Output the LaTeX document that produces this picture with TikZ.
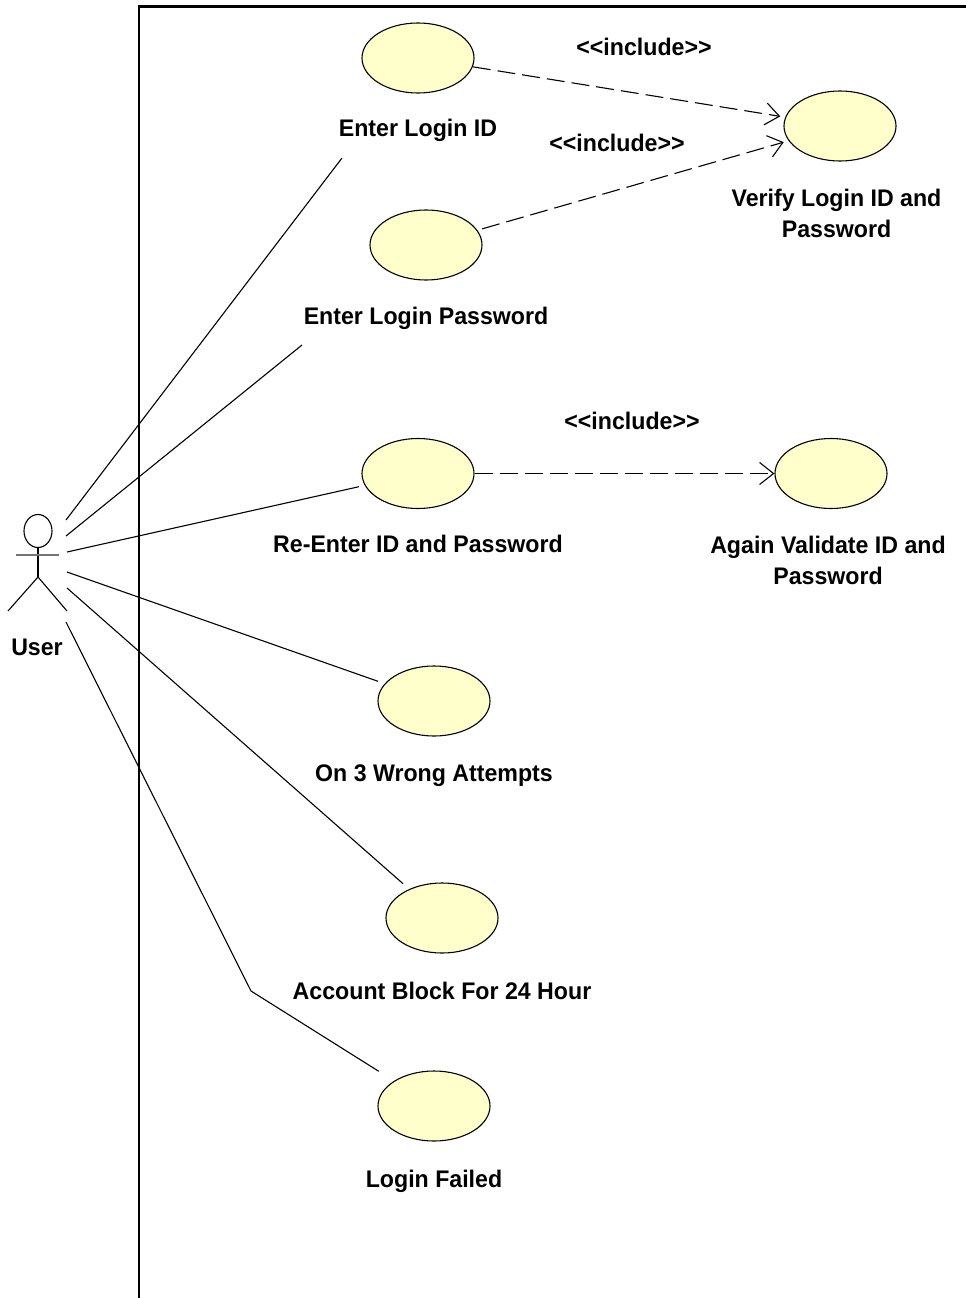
\documentclass[tikz,border=0pt]{standalone}
\usepackage{fontspec}
\setmainfont{Liberation Sans}[FakeStretch=0.965]
\usetikzlibrary{arrows.meta,shapes.geometric}
\definecolor{ucfill}{HTML}{FFFFCB}
\tikzset{
  usecase/.style={draw=black,fill=ucfill,ellipse,line width=1.1pt,minimum width=112pt,minimum height=70pt,inner sep=0pt},
  lbl/.style={font=\bfseries\fontsize{24}{31}\selectfont,align=center,inner sep=0pt,text=black},
  assoc/.style={draw=black,line width=1.1pt},
  incl/.style={draw=black,line width=1.1pt,dash pattern=on 18pt off 7pt,shorten >=5pt,-{Straight Barb[length=14pt,width=22pt,line width=1.1pt]}},
  actorline/.style={draw=black,line width=1.1pt}
}
\begin{document}
\begin{tikzpicture}[x=1pt,y=-1pt]
\useasboundingbox (0,0) rectangle (966,1298);
% system boundary
\draw[black,line width=2.2pt] (139,1298) -- (139,6.5) -- (966,6.5);
% use cases
\node[usecase] (login) at (418,58) {};
\node[usecase] (pass) at (426,245) {};
\node[usecase] (verify) at (840,126) {};
\node[usecase] (reenter) at (418,473.5) {};
\node[usecase] (again) at (831,473.5) {};
\node[usecase] (wrong) at (434,701) {};
\node[usecase] (block) at (442,918) {};
\node[usecase] (failed) at (434,1106) {};
% labels
\node[lbl] (tlogin) at (418,130) {Enter Login ID};
\node[lbl] (tpass) at (426,318) {Enter Login Password};
\node[lbl] (tverify) at (836.5,213) {Verify Login ID and\\Password};
\node[lbl] (treenter) at (418,544) {Re-Enter ID and Password};
\node[lbl] (tagain) at (828,560) {Again Validate ID and\\Password};
\node[lbl] (twrong) at (434,776) {On 3 Wrong Attempts};
\node[lbl] (tblock) at (442,991) {Account Block For 24 Hour};
\node[lbl] (tfailed) at (434,1181) {Login Failed};
\node[lbl] (tuser) at (37,647) {User};
\node[lbl] (inc1) at (644,47) {<{}<include>{}>};
\node[lbl] (inc2) at (617,143) {<{}<include>{}>};
\node[lbl] (inc3) at (632,421) {<{}<include>{}>};
% actor
\node[draw=black,ellipse,line width=1.1pt,minimum width=28pt,minimum height=33pt,inner sep=0pt] (head) at (38,531) {};
\coordinate (hip) at (38,577);
\coordinate (armL) at (16,555);
\coordinate (armR) at (59,555);
\coordinate (legL) at (8,611);
\coordinate (legR) at (67,611);
\draw[actorline] (head.south) -- (hip);
\draw[draw=black!55,line width=1.4pt] (armL) -- (armR);
\draw[actorline] (legL) -- (hip) -- (legR);
% associations
\coordinate (u1) at (66,520);
\coordinate (u2) at (66,536);
\coordinate (u3) at (67,552);
\coordinate (u4) at (67,572);
\coordinate (u5) at (67,588);
\coordinate (u6) at (66,622);
\coordinate (e1) at (342,158);
\coordinate (e2) at (302,345);
\coordinate (bend) at (251,991);
\draw[assoc] (u1) -- (e1);
\draw[assoc] (u2) -- (e2);
\draw[assoc,shorten >=6pt] (u3) -- (reenter);
\draw[assoc,shorten >=7pt] (u4) -- (wrong);
\draw[assoc,shorten >=8pt] (u5) -- (block);
\draw[assoc,shorten >=18pt] (u6) -- (bend) -- (failed);
% includes
\draw[incl] (login) -- (verify);
\draw[incl,shorten <=5pt] (pass) -- (verify);
\draw[incl,shorten >=0pt] (reenter) -- (again);
\end{tikzpicture}
\end{document}
